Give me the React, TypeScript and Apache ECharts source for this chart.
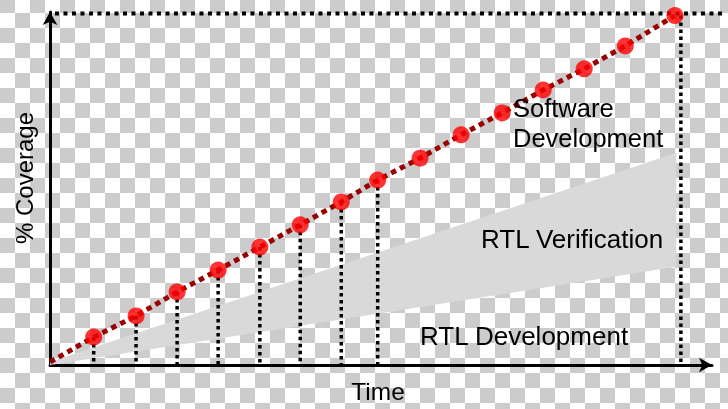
import React, { useEffect, useRef } from "react";
import * as echarts from "echarts";

// Red milestone dots (time %, coverage %)
const dotTime = [6.6, 13.0, 19.2, 25.4, 31.7, 37.8, 44.0, 49.5, 55.9, 62.1, 68.3, 74.5, 80.7, 86.9, 94.4];
const dotCoverage = [7.9, 13.9, 20.7, 26.9, 33.4, 39.7, 46.2, 52.4, 58.6, 65.2, 71.4, 77.9, 83.9, 90.4, 99.0];
const droppedCount = 8; // dots with a dotted drop line to the time axis
const swStart = [0, 0.85];

// RTL verification band
const bandTime = [0, 94.6];
const bandLower = [0, 27.8];
const bandUpper = [0.85, 60.1];

// Finish markers
const finishTime = 95.3;
const finishCoverage = 99.0;
const topCoverage = 99.6;
const topLineTime = [0.74, 100];

// Texts
const xName = "Time";
const yName = "% Coverage";
const swLabel = ["Software", "Development"];
const verifLabel = "RTL Verification";
const devLabel = "RTL Development";

const FONT = "'Liberation Sans', Arial, sans-serif";

function buildOption() {
  const redLine = [swStart, ...dotTime.map((t, i) => [t, dotCoverage[i]])];
  const dots = dotTime.map((t, i) => [t, dotCoverage[i]]);
  const dropStyle = { color: "#000", width: 3.5, type: [3.5, 3.5] };
  const drops = dotTime.slice(0, droppedCount).map((t, i) => ({
    type: "line",
    xAxisIndex: 0,
    yAxisIndex: 0,
    data: [
      [t, dotCoverage[i]],
      [t, 0],
    ],
    symbol: "none",
    silent: true,
    z: 2,
    lineStyle: dropStyle,
  }));

  // polygon vertices: along the upper edge, then back along the lower edge
  const bandPoly = [
    ...bandTime.map((t, i) => [t, bandUpper[i]]),
    ...bandTime.map((t, i) => [t, bandLower[i]]).reverse(),
  ];

  const axisBase = {
    axisTick: { show: false },
    axisLabel: { show: false },
    splitLine: { show: false },
  };

  const textStyle = (text: string, size: number, align: string) => ({
    text,
    font: `${size}px ${FONT}`,
    fill: "#000",
    align,
    verticalAlign: "middle",
  });

  return {
    animation: false,
    backgroundColor: "transparent",
    grid: [
      { left: 50, right: 16, top: 12, bottom: 44 },
      { left: 50, right: 6, top: 12, bottom: 44 },
    ],
    xAxis: [
      {
        type: "value",
        gridIndex: 0,
        min: 0,
        max: 100,
        ...axisBase,
        axisLine: {
          show: true,
          symbol: ["none", "arrow"],
          symbolSize: [11, 13],
          lineStyle: { color: "#000", width: 3 },
        },
      },
      { type: "value", gridIndex: 1, min: 0, max: 100, show: false, ...axisBase },
    ],
    yAxis: [
      {
        type: "value",
        gridIndex: 0,
        min: 0,
        max: 100,
        ...axisBase,
        axisLine: {
          show: true,
          symbol: ["none", "arrow"],
          symbolSize: [11, 13],
          lineStyle: { color: "#000", width: 3 },
        },
      },
      { type: "value", gridIndex: 1, min: 0, max: 100, show: false, ...axisBase },
    ],
    series: [
      {
        type: "custom",
        xAxisIndex: 0,
        yAxisIndex: 0,
        silent: true,
        z: 1,
        data: bandPoly,
        renderItem: (params: any, api: any) => {
          if (params.dataIndex !== 0) return null;
          const pts = bandPoly.map((p) => api.coord(p));
          return {
            type: "polygon",
            shape: { points: pts },
            style: { fill: "#d9d9d9" },
          };
        },
      },
      ...drops,
      {
        type: "line",
        xAxisIndex: 0,
        yAxisIndex: 0,
        data: [
          [finishTime, finishCoverage],
          [finishTime, 0],
        ],
        symbol: "none",
        silent: true,
        z: 2,
        lineStyle: dropStyle,
      },
      {
        type: "line",
        xAxisIndex: 1,
        yAxisIndex: 1,
        data: topLineTime.map((t) => [t, topCoverage]),
        symbol: "none",
        silent: true,
        z: 2,
        lineStyle: { color: "#000", width: 4, type: [4, 4.5] },
      },
      {
        type: "line",
        xAxisIndex: 0,
        yAxisIndex: 0,
        data: redLine,
        symbol: "none",
        silent: true,
        z: 3,
        lineStyle: { color: "#9b0000", width: 5, type: [5.5, 4.5] },
      },
      {
        type: "scatter",
        xAxisIndex: 0,
        yAxisIndex: 0,
        data: dots,
        symbol: "circle",
        symbolSize: 17,
        silent: true,
        z: 4,
        itemStyle: { color: "#ff0000", borderWidth: 0 },
      },
    ],
    graphic: [
      { type: "text", z: 100, x: 513, y: 108, style: textStyle(swLabel[0], 25.5, "left") },
      { type: "text", z: 100, x: 513, y: 138, style: textStyle(swLabel[1], 25.5, "left") },
      { type: "text", z: 100, x: 481, y: 239, style: textStyle(verifLabel, 26, "left") },
      { type: "text", z: 100, x: 420, y: 336, style: textStyle(devLabel, 26, "left") },
      { type: "text", z: 100, x: 378, y: 391, style: textStyle(xName, 24.5, "center") },
      { type: "text", z: 100, x: 24, y: 178, rotation: Math.PI / 2, style: textStyle(yName, 24, "center") },
    ],
  };
}

export default function App() {
  const ref = useRef<HTMLDivElement>(null);
  useEffect(() => {
    if (!ref.current) return;
    const chart = echarts.init(ref.current, undefined, { renderer: "svg" });
    chart.setOption(buildOption() as any);
    return () => chart.dispose();
  }, []);
  return (
    <div
      style={{
        position: "fixed",
        left: 0,
        top: 0,
        width: 728,
        height: 409,
        backgroundImage: "repeating-conic-gradient(#ffffff 0% 25%, #cccccc 0% 50%)",
        backgroundSize: "30px 30px",
        backgroundPosition: "0px -2px",
      }}
    >
      <div ref={ref} style={{ width: 728, height: 409 }} />
    </div>
  );
}
